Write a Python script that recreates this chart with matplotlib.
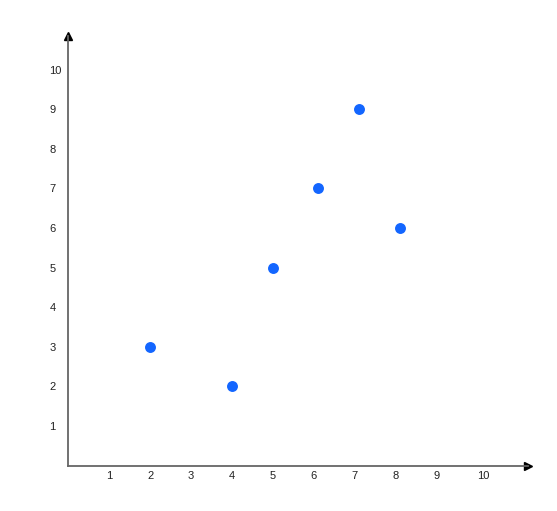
import matplotlib
matplotlib.use('Agg')
from matplotlib import pyplot as plt
from matplotlib.transforms import ScaledTranslation

# data
x_vals = [2, 4, 5, 6.1, 7.1, 8.1]
y_vals = [3, 2, 5, 7, 9, 6]
x_ticks = [1, 2, 3, 4, 5, 6, 7, 8, 9, 10]
y_ticks = [1, 2, 3, 4, 5, 6, 7, 8, 9, 10]

plt.rcParams['font.family'] = ['Liberation Sans', 'DejaVu Sans']

fig = plt.figure(figsize=(5.57, 5.11), dpi=100)
ax = fig.add_axes([0.1226, 0.0887, 0.8248, 0.8409])

ax.scatter(x_vals, y_vals, s=62, color='#1366ff', zorder=3, linewidths=0)

ax.set_xlim(0, 11.23)
ax.set_ylim(0, 10.85)

# axes: grey lines with black arrow heads
for side in ['top', 'right']:
    ax.spines[side].set_visible(False)
for side in ['left', 'bottom']:
    ax.spines[side].set_color('#666666')
    ax.spines[side].set_linewidth(1.3)
ax.plot(1, 0, '>', color='black', markersize=6, transform=ax.transAxes, clip_on=False)
ax.plot(0, 1, '^', color='black', markersize=6, transform=ax.transAxes, clip_on=False)

ax.set_xticks(x_ticks)
ax.set_xticklabels([str(t) for t in x_ticks])
ax.set_yticks(y_ticks)
ax.set_yticklabels([str(t) for t in y_ticks])
ax.tick_params(axis='x', length=0, pad=4, labelsize=8, colors='#222222')
ax.tick_params(axis='y', length=0, pad=13.5, labelsize=8, colors='#222222')
for lbl in ax.get_yticklabels():
    lbl.set_horizontalalignment('left')

# the "10" on the x axis sits a little to the right in the original
last = ax.get_xticklabels()[-1]
last.set_transform(last.get_transform() + ScaledTranslation(4/72, 0, fig.dpi_scale_trans))

fig.savefig('out.png', dpi=100)
